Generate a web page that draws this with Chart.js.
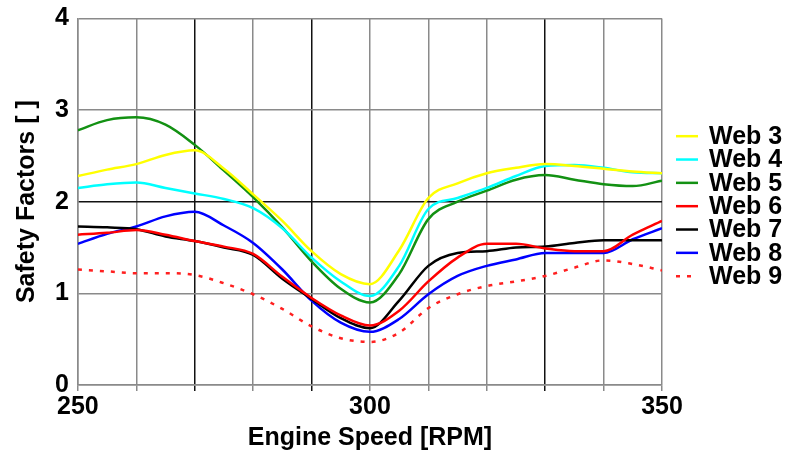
<!DOCTYPE html>
<html>
<head>
<meta charset="utf-8">
<script src="https://cdn.jsdelivr.net/npm/chart.js@4/dist/chart.umd.min.js"></script>
<style>
  html, body { margin: 0; padding: 0; background: #fff; }
  #wrap { width: 789px; height: 455px; }
</style>
</head>
<body>
<div id="wrap"><canvas id="sfChart"></canvas></div>
<script>
// engine speed samples [RPM]
const rpm = [250, 255, 260, 265, 270, 275, 280, 285, 290, 295, 300, 305, 310, 315, 320, 325, 330, 335, 340, 345, 350];

const web3 = [2.28, 2.35, 2.41, 2.51, 2.56, 2.36, 2.08, 1.79, 1.46, 1.21, 1.10, 1.47, 2.04, 2.20, 2.31, 2.37, 2.41, 2.39, 2.36, 2.33, 2.31];
const web4 = [2.15, 2.19, 2.21, 2.15, 2.09, 2.03, 1.93, 1.71, 1.39, 1.13, 0.97, 1.30, 1.92, 2.04, 2.15, 2.28, 2.39, 2.40, 2.37, 2.32, 2.31];
const web5 = [2.78, 2.89, 2.92, 2.84, 2.62, 2.34, 2.05, 1.72, 1.35, 1.05, 0.90, 1.21, 1.81, 2.00, 2.12, 2.24, 2.29, 2.24, 2.19, 2.17, 2.23];
const web6 = [1.64, 1.66, 1.69, 1.64, 1.57, 1.51, 1.43, 1.18, 0.95, 0.76, 0.65, 0.81, 1.13, 1.39, 1.54, 1.54, 1.49, 1.46, 1.46, 1.64, 1.79];
const web7 = [1.73, 1.72, 1.70, 1.62, 1.57, 1.50, 1.42, 1.16, 0.94, 0.73, 0.62, 0.92, 1.30, 1.44, 1.46, 1.50, 1.51, 1.55, 1.58, 1.58, 1.58];
const web8 = [1.54, 1.65, 1.73, 1.84, 1.89, 1.74, 1.55, 1.26, 0.92, 0.68, 0.58, 0.72, 0.99, 1.19, 1.30, 1.37, 1.44, 1.44, 1.44, 1.59, 1.71];
const web9 = [1.26, 1.24, 1.22, 1.22, 1.20, 1.11, 0.99, 0.83, 0.64, 0.51, 0.47, 0.57, 0.84, 0.99, 1.08, 1.13, 1.19, 1.28, 1.36, 1.32, 1.25];

const seriesNames = ["Web 3", "Web 4", "Web 5", "Web 6", "Web 7", "Web 8", "Web 9"];
const seriesColors = ["#ffff00", "#00ffff", "#139113", "#ff0000", "#000000", "#0000ff", "#ff2020"];
const seriesValues = [web3, web4, web5, web6, web7, web8, web9];

const xLabelTicks = [250, 300, 350];
const yTicks = [0, 1, 2, 3, 4];

const font = "'Liberation Sans', Arial, sans-serif";

const datasets = seriesValues.map((vals, i) => ({
    label: seriesNames[i],
    data: vals.map((v, j) => ({ x: rpm[j], y: v })),
    borderColor: seriesColors[i],
    backgroundColor: seriesColors[i],
    borderWidth: 2.5,
    borderDash: i === 6 ? [4, 7] : [],
    pointRadius: 0,
    fill: false,
    cubicInterpolationMode: "monotone"
}));

// darker grid lines, as in the original
const darkX = [270, 290, 330];
const darkY = [2];

// legend to the right of the plot, lines + bold labels
const sideLegend = {
    id: "sideLegend",
    afterDraw(chart) {
        const { ctx, chartArea } = chart;
        const mid = (chartArea.top + chartArea.bottom) / 2 + 4.5;
        const step = 23.33;
        const n = chart.data.datasets.length;
        ctx.save();
        ctx.font = "bold 25px " + font;
        ctx.textBaseline = "middle";
        chart.data.datasets.forEach((ds, i) => {
            const y = mid + (i - (n - 1) / 2) * step;
            const x0 = chartArea.right + 14;
            ctx.beginPath();
            ctx.setLineDash(ds.borderDash || []);
            ctx.strokeStyle = ds.borderColor;
            ctx.lineWidth = 2.5;
            ctx.moveTo(x0, y);
            ctx.lineTo(x0 + 22, y);
            ctx.stroke();
            ctx.setLineDash([]);
            ctx.fillStyle = "#000";
            ctx.fillText(ds.label, x0 + 33, y + 1);
        });
        ctx.restore();
    }
};

new Chart(document.getElementById("sfChart"), {
    type: "line",
    data: { datasets: datasets },
    plugins: [sideLegend],
    options: {
        responsive: true,
        maintainAspectRatio: false,
        animation: false,
        layout: { padding: { left: 12, right: 127, top: 0, bottom: 2 } },
        scales: {
            x: {
                type: "linear",
                min: 250,
                max: 350,
                ticks: {
                    stepSize: 10,
                    color: "#000",
                    font: { family: font, size: 25, weight: "bold" },
                    maxRotation: 0,
                    padding: 1,
                    callback: v => xLabelTicks.includes(v) ? String(v) : ""
                },
                grid: {
                    color: c => darkX.includes(c.tick && c.tick.value) ? "#111" : "#8a8a8a",
                    lineWidth: 1.5,
                    tickLength: 6
                },
                border: { color: "#8a8a8a", width: 1.5 },
                title: {
                    display: true,
                    text: "Engine Speed [RPM]",
                    color: "#000",
                    font: { family: font, size: 25, weight: "bold" },
                    padding: { top: 0, bottom: 0 }
                }
            },
            y: {
                min: 0,
                max: 4,
                ticks: {
                    stepSize: 1,
                    color: "#000",
                    font: { family: font, size: 25, weight: "bold", lineHeight: 0.75 },
                    padding: 9,
                    callback: v => yTicks.includes(v) ? String(v) : ""
                },
                grid: {
                    color: c => darkY.includes(c.tick && c.tick.value) ? "#111" : "#8a8a8a",
                    lineWidth: 1.5,
                    drawTicks: false
                },
                border: { color: "#8a8a8a", width: 1.5 },
                title: {
                    display: true,
                    text: "Safety Factors [ ]",
                    color: "#000",
                    font: { family: font, size: 25, weight: "bold" },
                    padding: { top: 0, bottom: 4 }
                }
            }
        },
        plugins: {
            legend: { display: false },
            tooltip: { enabled: false }
        }
    }
});
</script>
</body>
</html>
